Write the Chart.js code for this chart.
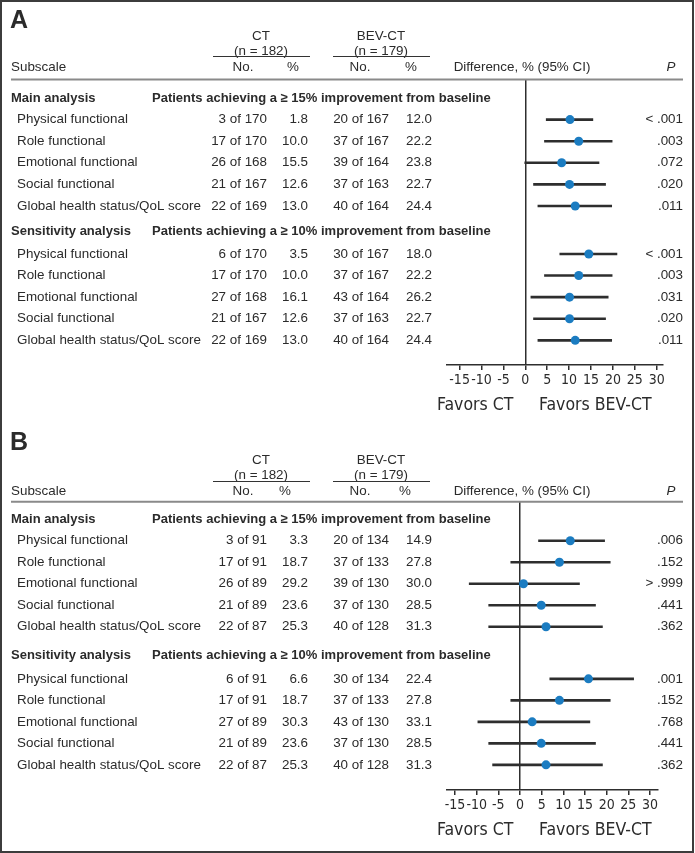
<!DOCTYPE html>
<html>
<head>
<meta charset="utf-8">
<script src="https://cdn.jsdelivr.net/npm/chart.js@4/dist/chart.umd.min.js"></script>
<style>
  body { margin: 0; background: #fff; }
  #wrap { position: relative; width: 695px; height: 853px; }
  #frame { position: absolute; left: 0; top: 0; width: 690px; height: 849px; border: 2px solid #3c3c3c; }
  canvas { position: absolute; left: 0; }
</style>
</head>
<body>
<div id="wrap">
  <canvas id="panelA" width="695" height="420" style="top:0"></canvas>
  <canvas id="panelB" width="695" height="433" style="top:420px"></canvas>
  <div id="frame"></div>
</div>
<script>
// 行ラベル
const subscales = ['Physical functional', 'Role functional', 'Emotional functional', 'Social functional', 'Global health status/QoL score'];
const sectionNames = ['Main analysis', 'Sensitivity analysis'];
const sectionTitles = ['Patients achieving a \u2265 15% improvement from baseline', 'Patients achieving a \u2265 10% improvement from baseline'];
const tickValues = [-15, -10, -5, 0, 5, 10, 15, 20, 25, 30];

// パネル A
const ctNoA = [['3 of 170', '17 of 170', '26 of 168', '21 of 167', '22 of 169'], ['6 of 170', '17 of 170', '27 of 168', '21 of 167', '22 of 169']];
const ctPctA = [['1.8', '10.0', '15.5', '12.6', '13.0'], ['3.5', '10.0', '16.1', '12.6', '13.0']];
const bevNoA = [['20 of 167', '37 of 167', '39 of 164', '37 of 163', '40 of 164'], ['30 of 167', '37 of 167', '43 of 164', '37 of 163', '40 of 164']];
const bevPctA = [['12.0', '22.2', '23.8', '22.7', '24.4'], ['18.0', '22.2', '26.2', '22.7', '24.4']];
const diffA = [[10.2, 12.2, 8.3, 10.1, 11.4], [14.5, 12.2, 10.1, 10.1, 11.4]];
const lowA = [[4.7, 4.3, -0.2, 1.8, 2.8], [7.8, 4.3, 1.2, 1.8, 2.8]];
const highA = [[15.5, 19.9, 16.9, 18.4, 19.8], [21.0, 19.9, 19.0, 18.4, 19.8]];
const pA = [['< .001', '.003', '.072', '.020', '.011'], ['< .001', '.003', '.031', '.020', '.011']];

// パネル B
const ctNoB = [['3 of 91', '17 of 91', '26 of 89', '21 of 89', '22 of 87'], ['6 of 91', '17 of 91', '27 of 89', '21 of 89', '22 of 87']];
const ctPctB = [['3.3', '18.7', '29.2', '23.6', '25.3'], ['6.6', '18.7', '30.3', '23.6', '25.3']];
const bevNoB = [['20 of 134', '37 of 133', '39 of 130', '37 of 130', '40 of 128'], ['30 of 134', '37 of 133', '43 of 130', '37 of 130', '40 of 128']];
const bevPctB = [['14.9', '27.8', '30.0', '28.5', '31.3'], ['22.4', '27.8', '33.1', '28.5', '31.3']];
const diffB = [[11.6, 9.1, 0.8, 4.9, 6.0], [15.8, 9.1, 2.8, 4.9, 6.0]];
const lowB = [[4.2, -2.2, -11.8, -7.3, -7.3], [6.8, -2.2, -9.8, -7.3, -6.4]];
const highB = [[19.6, 20.9, 13.8, 17.5, 19.1], [26.3, 20.9, 16.2, 17.5, 19.1]];
const pB = [['.006', '.152', '> .999', '.441', '.362'], ['.001', '.152', '.768', '.441', '.362']];

const TEXT = '#2b2b2b';
const DOT = '#1b7cc1';
const FONT = "'Liberation Sans', Arial, sans-serif";
const NARROW = "'Liberation Sans Narrow', 'Arial Narrow', 'DejaVu Sans Condensed', sans-serif";

// 行の位置（セクション見出し=整数、間に少し余白）
function rowPos(sec, i, gap) { return sec === 0 ? 1 + i : 7 + gap + i; }
function headPos(sec, gap) { return sec === 0 ? 0 : 6 + gap * 0.8; }

const tablePlugin = {
    id: 'tableText',
    afterDraw(chart) {
        const o = chart.options.plugins.tableText;
        const L = o.layout;
        const ctx = chart.ctx;
        const y = chart.scales.y;
        ctx.save();
        ctx.fillStyle = TEXT;
        ctx.textBaseline = 'middle';

        const put = (t, x, yy, align, font) => { ctx.font = font; ctx.textAlign = align; ctx.fillText(t, x, yy); };
        const reg = '13.4px ' + FONT;
        const bold = 'bold 13px ' + FONT;

        put(o.letter, 10, L.letter, 'left', 'bold 25px ' + FONT);
        put('CT', 261, L.ct, 'center', reg);
        put('(n = 182)', 261, L.n, 'center', reg);
        put('BEV-CT', 381, L.ct, 'center', reg);
        put('(n = 179)', 381, L.n, 'center', reg);
        put('Subscale', 11, L.sub, 'left', reg);
        put('No.', 243, L.sub, 'center', reg);
        put('%', L.pct[0], L.sub, 'center', reg);
        put('No.', 360, L.sub, 'center', reg);
        put('%', L.pct[1], L.sub, 'center', reg);
        put('Difference, % (95% CI)', 522, L.sub, 'center', reg);
        put('P', 671, L.sub, 'center', 'italic 13.4px ' + FONT);

        ctx.strokeStyle = '#333';
        ctx.lineWidth = 1;
        ctx.beginPath();
        ctx.moveTo(213, L.under); ctx.lineTo(310, L.under);
        ctx.moveTo(333, L.under); ctx.lineTo(430, L.under);
        ctx.stroke();
        ctx.strokeStyle = '#8a8a8a';
        ctx.lineWidth = 2;
        ctx.beginPath();
        ctx.moveTo(11, L.rule); ctx.lineTo(683, L.rule);
        ctx.stroke();

        for (let s = 0; s < 2; s++) {
            const hy = y.getPixelForValue(headPos(s, L.gap));
            put(sectionNames[s], 11, hy, 'left', bold);
            put(sectionTitles[s], 152, hy, 'left', bold);
            subscales.forEach((name, i) => {
                const ry = y.getPixelForValue(rowPos(s, i, L.gap));
                put(name, 17, ry, 'left', reg);
                put(o.ctNo[s][i], 267, ry, 'right', reg);
                put(o.ctPct[s][i], 308, ry, 'right', reg);
                put(o.bevNo[s][i], 389, ry, 'right', reg);
                put(o.bevPct[s][i], 432, ry, 'right', reg);
                put(o.p[s][i], 683, ry, 'right', reg);
            });
        }

        put('Favors CT', 437, L.favors, 'left', '17.5px ' + NARROW);
        put('Favors BEV-CT', 539, L.favors, 'left', '17.5px ' + NARROW);
        ctx.restore();
    }
};

function buildPanel(canvasId, letter, d, L) {
    const H = document.getElementById(canvasId).height;
    const dots = [];
    const ciSets = [];
    for (let s = 0; s < 2; s++) {
        d.diff[s].forEach((v, i) => {
            const r = rowPos(s, i, L.gap);
            dots.push({ x: v, y: r });
            ciSets.push({
                type: 'line',
                data: [{ x: d.low[s][i], y: r }, { x: d.high[s][i], y: r }],
                borderColor: '#2e2e2e',
                borderWidth: 2.6,
                pointRadius: 0,
                showLine: true,
                order: 1
            });
        });
    }
    const yMin = (L.rule - L.firstRow) / L.step;
    const yMax = (L.axis - L.firstRow) / L.step;

    return new Chart(document.getElementById(canvasId), {
        type: 'scatter',
        data: {
            datasets: [
                { data: dots, backgroundColor: DOT, borderWidth: 0, pointRadius: 4.5, pointHoverRadius: 4.5, order: 0 },
                ...ciSets
            ]
        },
        options: {
            responsive: false,
            animation: false,
            layout: { padding: { left: 447, right: 695 - L.right, top: L.rule, bottom: H - L.axis - 30 } },
            plugins: {
                legend: { display: false },
                tooltip: { enabled: false },
                tableText: { letter, layout: L, ...d }
            },
            scales: {
                x: {
                    type: 'linear',
                    min: L.xMin,
                    max: L.xMax,
                    afterBuildTicks: (scale) => { scale.ticks = tickValues.map(v => ({ value: v })); },
                    afterFit: (scale) => { scale.height = 30; },
                    border: { display: true, color: '#2e2e2e', width: 1.5 },
                    grid: {
                        color: (c) => (c.tick && c.tick.value === 0 ? '#2e2e2e' : 'rgba(0,0,0,0)'),
                        lineWidth: 1.5,
                        tickColor: '#2e2e2e',
                        tickLength: 5,
                        drawTicks: true
                    },
                    ticks: {
                        color: TEXT,
                        padding: 2,
                        maxRotation: 0,
                        autoSkip: false,
                        font: { family: NARROW, size: 14 },
                        callback: (v) => String(v)
                    }
                },
                y: { type: 'linear', display: false, reverse: true, min: yMin, max: yMax }
            }
        },
        plugins: [tablePlugin]
    });
}

buildPanel('panelA', 'A',
    { ctNo: ctNoA, ctPct: ctPctA, bevNo: bevNoA, bevPct: bevPctA, diff: diffA, low: lowA, high: highA, p: pA },
    { letter: 21, ct: 36, n: 51, under: 56.5, sub: 67, rule: 79.5, firstRow: 98, step: 21.6, gap: 0.22, axis: 365, favors: 405, right: 663, xMin: -17.88, xMax: 31.44, pct: [293, 411] });

buildPanel('panelB', 'B',
    { ctNo: ctNoB, ctPct: ctPctB, bevNo: bevNoB, bevPct: bevPctB, diff: diffB, low: lowB, high: highB, p: pB },
    { letter: 23, ct: 40, n: 55.5, under: 61.5, sub: 71.5, rule: 81.7, firstRow: 99.3, step: 21.5, gap: 0.42, axis: 370, favors: 410, right: 658, xMin: -16.85, xMax: 31.85, pct: [285, 405] });
</script>
</body>
</html>
